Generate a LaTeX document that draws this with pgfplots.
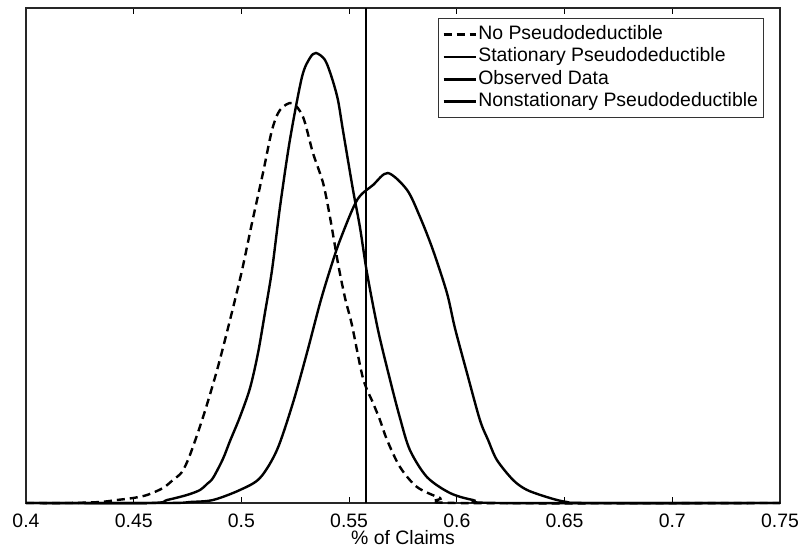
\documentclass[border=0pt]{standalone}
\usepackage{pgfplots}
\pgfplotsset{compat=1.18}
\usepackage{fontspec}
\setmainfont{Liberation Sans}
\begin{document}
\begin{tikzpicture}
\useasboundingbox (-26bp,-46bp) rectangle (773bp,503bp);
\begin{axis}[
  at={(0,0)}, anchor=south west,
  scale only axis, width=754bp, height=495bp,
  xmin=0.4, xmax=0.75, ymin=0, ymax=495,
  xtick={0.4,0.45,0.5,0.55,0.6,0.65,0.7,0.75},
  xticklabels={0.4,0.45,0.5,0.55,0.6,0.65,0.7,0.75},
  ytick=\empty,
  tick align=inside,
  xtick pos=both,
  major tick length=6bp,
  tick style={black, line width=0.8bp},
  axis line style={black!85, line width=1.3bp},
  xticklabel style={font=\fontsize{19.5}{22}\selectfont, anchor=center, yshift=-18bp},
  xlabel={\% of Claims},
  xlabel style={font=\fontsize{19.5}{22}\selectfont, at={(0.5,0)}, anchor=center, yshift=-35bp},
  clip=false,
  legend style={at={(0.9788,0.9798)}, anchor=north east,
    font=\fontsize{19.5}{22}\selectfont, draw=black!80, line width=1bp,
    inner xsep=4bp, inner ysep=5bp, row sep=0pt,
    nodes={inner sep=1.5bp, text height=14.5bp, text depth=4.8bp}},
  legend cell align=left,
  legend image code/.code={\draw[#1] (0bp,0bp) -- (32bp,0bp);},
]
% No Pseudodeductible
\addplot[black, line width=2.4bp, dash pattern=on 8bp off 5bp, smooth, tension=0.5] coordinates {
(0.4000,0) (0.4200,0) (0.4344,1) (0.4422,3) (0.4497,5) (0.4562,8) (0.4636,15) (0.4682,23)
(0.4724,31) (0.4761,48) (0.4822,86) (0.4887,133) (0.4947,183) (0.5003,233) (0.5049,280)
(0.5100,330) (0.5142,373) (0.5179,393) (0.5235,400) (0.5286,386) (0.5332,350) (0.5379,320)
(0.5411,286) (0.5448,240) (0.5481,205) (0.5513,178) (0.5564,125) (0.5611,100) (0.5643,83)
(0.5676,63) (0.5736,36) (0.5815,16) (0.5922,5) (0.6001,0) (0.7500,0)
};
\addlegendentry{No Pseudodeductible}
% Stationary Pseudodeductible
\addplot[black, line width=2.4bp, smooth, tension=0.5] coordinates {
(0.4000,0) (0.4576,0) (0.4655,3) (0.4747,8) (0.4808,13) (0.4840,19) (0.4868,25) (0.4914,44)
(0.4947,62) (0.4993,86) (0.5040,115) (0.5077,150) (0.5109,190) (0.5142,233) (0.5179,296)
(0.5225,363) (0.5281,426) (0.5318,445) (0.5346,450) (0.5388,443) (0.5420,425) (0.5448,403)
(0.5471,373) (0.5518,313) (0.5550,276) (0.5583,230) (0.5634,173) (0.5690,123) (0.5736,85)
(0.5782,53) (0.5861,26) (0.5968,10) (0.6075,3) (0.6200,0) (0.7500,0)
};
\addlegendentry{Stationary Pseudodeductible}
% Observed Data
\addplot[black, line width=2.6bp] coordinates {(0.5578,0) (0.5578,495)};
\addlegendentry{Observed Data}
% Nonstationary Pseudodeductible
\addplot[black, line width=2.4bp, smooth, tension=0.5] coordinates {
(0.4000,0) (0.4655,0) (0.4761,1) (0.4868,3) (0.4993,13) (0.5086,25) (0.5165,53) (0.5239,100)
(0.5304,150) (0.5365,200) (0.5411,233) (0.5458,263) (0.5537,303) (0.5611,318) (0.5680,330)
(0.5769,313) (0.5829,286) (0.5889,253) (0.5954,210) (0.5991,175) (0.6047,130) (0.6107,83)
(0.6145,63) (0.6186,43) (0.6261,23) (0.6326,13) (0.6432,5) (0.6511,1) (0.6618,0) (0.7500,0)
};
\addlegendentry{Nonstationary Pseudodeductible\hspace{11bp}}
\end{axis}
\end{tikzpicture}
\end{document}
